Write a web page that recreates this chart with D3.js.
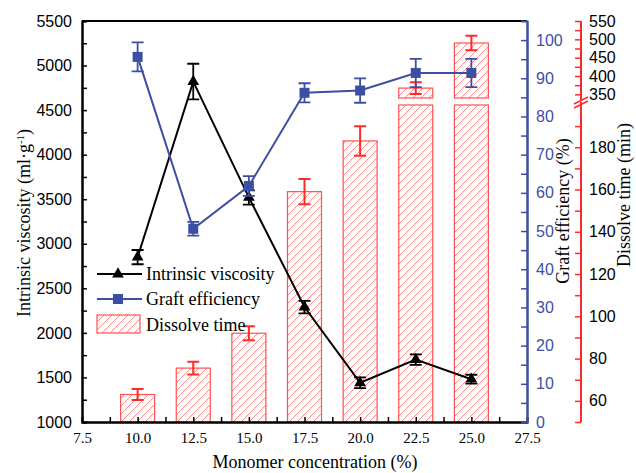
<!DOCTYPE html>
<html>
<head>
<meta charset="utf-8">
<script src="https://cdn.jsdelivr.net/npm/d3@7"></script>
<style>
  body { margin: 0; background: #fff; }
  .sans { font-family: "Liberation Sans", Arial, sans-serif; }
  .serif { font-family: "Liberation Serif", "Times New Roman", serif; }
</style>
</head>
<body>
<div class="chart"></div>
<script>
// Monomer concentration (%)
var concentration = [10, 12.5, 15, 17.5, 20, 22.5, 25];
var xTicks = [7.5, 10, 12.5, 15, 17.5, 20, 22.5, 25, 27.5];

// Intrinsic viscosity (ml/g)
var viscosity = [2850, 4820, 3520, 2290, 1440, 1700, 1480];
var viscosityErr = [80, 200, 80, 70, 60, 60, 50];

// Graft efficiency (%)
var graft = [95.6, 50.6, 61.8, 86.2, 86.8, 91.4, 91.4];
var graftErr = [3.8, 1.8, 2.6, 2.5, 3.2, 3.7, 3.7];

// Dissolve time (min)
var dissolve = [63, 75.5, 92, 159, 183, 367, 490];
var dissolveErr = [2.6, 3, 3.3, 6, 7, 16, 20];

var svgWidth = 636;
var svgHeight = 473;

var margin = { top: 21, right: 109, bottom: 51, left: 82 };
var width = svgWidth - margin.left - margin.right;
var height = svgHeight - margin.top - margin.bottom;

var blue = "#3d4fa3";
var red = "#ff2a2a";

var svg = d3.select(".chart")
  .append("svg")
  .attr("width", svgWidth)
  .attr("height", svgHeight);

// hatch fill for the bars
var pat = svg.append("defs").append("pattern")
  .attr("id", "hatch")
  .attr("patternUnits", "userSpaceOnUse")
  .attr("width", 8)
  .attr("height", 8);
pat.append("rect").attr("width", 8).attr("height", 8).attr("fill", "#fff");
pat.append("path")
  .attr("d", "M-2,2 L2,-2 M0,8 L8,0 M6,10 L10,6")
  .attr("stroke", "#ff8a8a")
  .attr("stroke-width", 1);

var chartGroup = svg.append("g")
  .attr("transform", `translate(${margin.left}, ${margin.top})`);

// scales
var x = d3.scaleLinear().domain([7.5, 27.5]).range([0, width]);
var yVisc = d3.scaleLinear().domain([1000, 5500]).range([height, 0]);
var yGraft = d3.scaleLinear().domain([0, 105]).range([height, 0]);

// dissolve time axis is broken: 50-200 below, 340-550 above
var breakLow = 84, breakHigh = 77;
var yTimeLow = d3.scaleLinear().domain([50, 200]).range([height, breakLow]);
var yTimeHigh = d3.scaleLinear().domain([340, 550]).range([breakHigh, 0]);
function yTime(v) { return v <= 200 ? yTimeLow(v) : yTimeHigh(v); }

// bars
var barW = 34;
concentration.forEach(function(c, i) {
  var v = dissolve[i];
  var cx = x(c);
  if (v <= 200) {
    chartGroup.append("rect")
      .attr("x", cx - barW / 2).attr("y", yTime(v))
      .attr("width", barW).attr("height", height - yTime(v))
      .attr("fill", "url(#hatch)").attr("stroke", "#ff5050").attr("stroke-width", 1.2);
  } else {
    chartGroup.append("rect")
      .attr("x", cx - barW / 2).attr("y", breakLow)
      .attr("width", barW).attr("height", height - breakLow)
      .attr("fill", "url(#hatch)").attr("stroke", "#ff5050").attr("stroke-width", 1.2);
    chartGroup.append("rect")
      .attr("x", cx - barW / 2).attr("y", yTime(v))
      .attr("width", barW).attr("height", breakHigh - yTime(v))
      .attr("fill", "url(#hatch)").attr("stroke", "#ff5050").attr("stroke-width", 1.2);
  }
});

function errorBars(g, xs, ys, errs, yFn, color, cap, sw) {
  xs.forEach(function(c, i) {
    var x0 = x(c), y1 = yFn(ys[i] + errs[i]), y2 = yFn(ys[i] - errs[i]);
    g.append("path")
      .attr("d", `M${x0},${y1}V${y2}M${x0 - cap},${y1}H${x0 + cap}M${x0 - cap},${y2}H${x0 + cap}`)
      .attr("stroke", color).attr("stroke-width", sw).attr("fill", "none");
  });
}

errorBars(chartGroup, concentration, dissolve, dissolveErr, yTime, red, 6, 2);

// intrinsic viscosity line
var viscLine = d3.line()
  .x(function(d, i) { return x(concentration[i]); })
  .y(function(d) { return yVisc(d); });

chartGroup.append("path")
  .datum(viscosity)
  .attr("d", viscLine)
  .attr("fill", "none").attr("stroke", "#000").attr("stroke-width", 2);
errorBars(chartGroup, concentration, viscosity, viscosityErr, yVisc, "#000", 6, 1.8);
chartGroup.selectAll(".tri")
  .data(viscosity)
  .enter().append("path")
  .attr("transform", function(d, i) { return `translate(${x(concentration[i])},${yVisc(d)})`; })
  .attr("d", d3.symbol(d3.symbolTriangle, 60))
  .attr("fill", "#000");

// graft efficiency line
var graftLine = d3.line()
  .x(function(d, i) { return x(concentration[i]); })
  .y(function(d) { return yGraft(d); });

chartGroup.append("path")
  .datum(graft)
  .attr("d", graftLine)
  .attr("fill", "none").attr("stroke", blue).attr("stroke-width", 2);
errorBars(chartGroup, concentration, graft, graftErr, yGraft, blue, 6, 1.8);
chartGroup.selectAll(".sq")
  .data(graft)
  .enter().append("rect")
  .attr("x", function(d, i) { return x(concentration[i]) - 5; })
  .attr("y", function(d) { return yGraft(d) - 5; })
  .attr("width", 10).attr("height", 10)
  .attr("fill", blue);

// axes
function styleAxis(g, color, cls, size) {
  g.selectAll("path").attr("stroke", color).attr("stroke-width", 2);
  g.selectAll("line").attr("stroke", color).attr("stroke-width", 1.5);
  g.selectAll("text").attr("class", cls).style("font-size", size).attr("fill", color);
}

// left axis
var leftMinor = chartGroup.append("g")
  .call(d3.axisLeft(yVisc).tickValues(d3.range(1250, 5500, 500)).tickSize(-5).tickFormat(""));
styleAxis(leftMinor, "#000", "sans", "16px");
var leftAxis = chartGroup.append("g")
  .call(d3.axisLeft(yVisc).tickValues(d3.range(1000, 5501, 500)).tickSizeInner(-5).tickSizeOuter(0)
    .tickPadding(10).tickFormat(d3.format("d")));
styleAxis(leftAxis, "#000", "sans", "16px");

// bottom axis
var bottomMinor = chartGroup.append("g")
  .attr("transform", `translate(0, ${height})`)
  .call(d3.axisBottom(x).tickValues(d3.range(8.75, 27.5, 2.5)).tickSize(-5).tickFormat(""));
styleAxis(bottomMinor, "#000", "serif", "15px");
var bottomAxis = chartGroup.append("g")
  .attr("transform", `translate(0, ${height})`)
  .call(d3.axisBottom(x).tickValues(xTicks).tickSizeInner(-5).tickSizeOuter(0).tickPadding(10).tickFormat(d3.format(".1f")));
styleAxis(bottomAxis, "#000", "serif", "15px");

// top frame
chartGroup.append("line")
  .attr("x1", 0).attr("x2", width).attr("y1", 0).attr("y2", 0)
  .attr("stroke", "#000").attr("stroke-width", 2);

// graft efficiency axis
var blueMinor = chartGroup.append("g")
  .attr("transform", `translate(${width}, 0)`)
  .call(d3.axisRight(yGraft).tickValues(d3.range(5, 105, 10)).tickSize(-6).tickFormat(""));
styleAxis(blueMinor, blue, "sans", "16px");
var blueAxis = chartGroup.append("g")
  .attr("transform", `translate(${width}, 0)`)
  .call(d3.axisRight(yGraft).tickValues(d3.range(0, 101, 10)).tickSizeInner(-6).tickSizeOuter(0).tickPadding(9));
styleAxis(blueAxis, blue, "sans", "16px");

// dissolve time axis, two pieces
var timeX = width + 54;
var timeG = chartGroup.append("g").attr("transform", `translate(${timeX}, 0)`);
var lowMinor = timeG.append("g")
  .call(d3.axisRight(yTimeLow).tickValues(d3.range(50, 200, 20)).tickSize(-6).tickFormat(""));
var lowAxis = timeG.append("g")
  .call(d3.axisRight(yTimeLow).tickValues(d3.range(60, 181, 20)).tickSizeInner(-6).tickSizeOuter(0).tickPadding(8));
var highMinor = timeG.append("g")
  .call(d3.axisRight(yTimeHigh).tickValues(d3.range(375, 550, 50)).tickSize(-6).tickFormat(""));
var highAxis = timeG.append("g")
  .call(d3.axisRight(yTimeHigh).tickValues(d3.range(350, 551, 50)).tickSizeInner(-6).tickSizeOuter(0).tickPadding(8));
[lowMinor, lowAxis, highMinor, highAxis].forEach(function(g) {
  g.select(".domain").remove();
  styleAxis(g, red, "sans", "16px");
  g.selectAll("text").attr("fill", "#000");
});
timeG.append("line").attr("x1", 0).attr("x2", 0).attr("y1", height).attr("y2", breakLow - 3)
  .attr("stroke", red).attr("stroke-width", 2);
timeG.append("line").attr("x1", 0).attr("x2", 0).attr("y1", 0).attr("y2", breakHigh + 3)
  .attr("stroke", red).attr("stroke-width", 2);
timeG.append("path")
  .attr("d", `M-7,${breakHigh + 6}L7,${breakHigh - 1}M-7,${breakLow + 3}L7,${breakLow - 4}`)
  .attr("stroke", red).attr("stroke-width", 1.5);

// legend
var legend = chartGroup.append("g").attr("transform", "translate(15, 253)");
legend.append("line").attr("x1", 0).attr("x2", 45).attr("y1", 0).attr("y2", 0)
  .attr("stroke", "#000").attr("stroke-width", 2);
legend.append("path").attr("transform", "translate(21,0)")
  .attr("d", d3.symbol(d3.symbolTriangle, 60)).attr("fill", "#000");
legend.append("text").attr("class", "serif").attr("x", 49).attr("y", 6)
  .style("font-size", "18px").text("Intrinsic viscosity");

legend.append("line").attr("x1", 0).attr("x2", 45).attr("y1", 25).attr("y2", 25)
  .attr("stroke", blue).attr("stroke-width", 2);
legend.append("rect").attr("x", 16).attr("y", 20).attr("width", 10).attr("height", 10).attr("fill", blue);
legend.append("text").attr("class", "serif").attr("x", 49).attr("y", 31)
  .style("font-size", "18px").text("Graft efficiency");

legend.append("rect").attr("x", 0).attr("y", 41).attr("width", 43).attr("height", 18)
  .attr("fill", "url(#hatch)").attr("stroke", "#ff5050").attr("stroke-width", 1.2);
legend.append("text").attr("class", "serif").attr("x", 49).attr("y", 57)
  .style("font-size", "18px").text("Dissolve time");

// axis titles
svg.append("text")
  .attr("class", "serif")
  .attr("transform", "translate(30, 223) rotate(-90)")
  .attr("text-anchor", "middle")
  .style("font-size", "18px")
  .html('Intrinsic viscosity (ml·g<tspan baseline-shift="super" font-size="11px">-1</tspan>)');

svg.append("text")
  .attr("class", "serif")
  .attr("transform", "translate(569, 211) rotate(-90)")
  .attr("text-anchor", "middle")
  .style("font-size", "18px")
  .text("Graft efficiency (%)");

svg.append("text")
  .attr("class", "serif")
  .attr("transform", "translate(630, 195) rotate(-90)")
  .attr("text-anchor", "middle")
  .style("font-size", "18px")
  .text("Dissolve time (min)");

svg.append("text")
  .attr("class", "serif")
  .attr("x", 315)
  .attr("y", 468)
  .attr("text-anchor", "middle")
  .style("font-size", "18px")
  .text("Monomer concentration (%)");
</script>
</body>
</html>
